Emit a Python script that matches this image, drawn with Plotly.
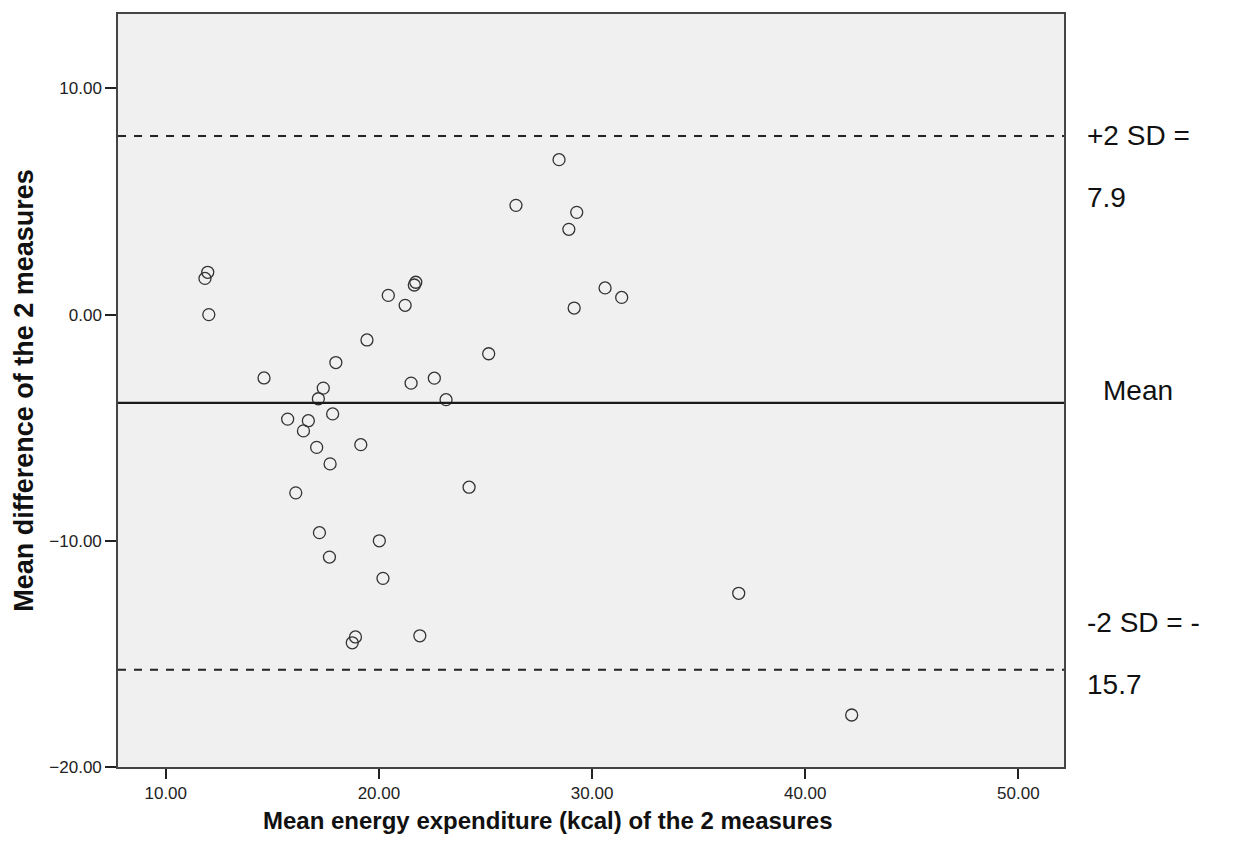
import plotly.graph_objects as go

# Bland-Altman data: mean of the 2 measures (x) and their difference (y)
mean_energy = [11.97, 11.84, 12.02, 14.61, 20.44, 21.73, 21.66, 21.23, 19.44, 17.98,
               25.15, 17.39, 17.16, 21.51, 22.60, 23.15, 15.72, 16.69, 16.46, 17.83,
               17.08, 19.15, 17.71, 16.10, 24.23, 17.21, 20.02, 17.68, 20.19, 18.90,
               18.75, 21.92, 28.45, 26.43, 29.28, 28.91, 30.61, 31.39, 29.16, 36.88,
               42.18]
mean_diff = [1.87, 1.60, 0.00, -2.80, 0.85, 1.43, 1.31, 0.41, -1.12, -2.12,
             -1.73, -3.25, -3.72, -3.03, -2.81, -3.76, -4.62, -4.69, -5.14, -4.39,
             -5.87, -5.75, -6.60, -7.88, -7.63, -9.64, -10.00, -10.72, -11.66, -14.25,
             -14.51, -14.20, 6.85, 4.83, 4.52, 3.77, 1.18, 0.76, 0.29, -12.32,
             -17.70]

mean_line = -3.9
upper_sd = 7.9
lower_sd = -15.7

x_ticks = [10, 20, 30, 40, 50]
y_ticks = [-20, -10, 0, 10]

FONT = "Liberation Sans, Arial, sans-serif"

fig = go.Figure()
fig.add_trace(go.Scatter(
    x=mean_energy, y=mean_diff, mode="markers",
    marker=dict(symbol="circle-open", size=12, color="#333333",
                line=dict(width=1.3, color="#333333")),
    showlegend=False, hoverinfo="x+y"))

fig.add_hline(y=mean_line, line=dict(color="#1a1a1a", width=2.2))
fig.add_hline(y=upper_sd, line=dict(color="#222222", width=2, dash="8px,8px"))
fig.add_hline(y=lower_sd, line=dict(color="#222222", width=2, dash="8px,8px"))

ann_font = dict(family=FONT, size=28, color="#111111")
anns = [
    ("+2 SD =", upper_sd, 0, 1.022),
    ("7.9", upper_sd, -62, 1.022),
    ("Mean", mean_line, 12, 1.039),
    ("-2 SD = -", lower_sd, 47, 1.022),
    ("15.7", lower_sd, -15, 1.022),
]
for txt, yv, shift, xp in anns:
    fig.add_annotation(text=txt, x=xp, xref="paper", y=yv, yref="y",
                       yshift=shift, xanchor="left", yanchor="middle",
                       showarrow=False, font=ann_font)

# x-axis title, slightly left of the plot centre as in the reference
fig.add_annotation(text="<b>Mean energy expenditure (kcal) of the 2 measures</b>",
                   x=0.455, xref="paper", y=0, yref="paper", yshift=-38,
                   xanchor="center", yanchor="top", showarrow=False,
                   font=dict(family=FONT, size=24, color="#111111"))

fig.update_xaxes(range=[7.76, 52.14], tickvals=x_ticks, tickformat=".2f",
                 showgrid=False, zeroline=False, showline=True, mirror=True,
                 linecolor="#444444", linewidth=1.5, ticks="outside", ticklen=10,
                 tickcolor="#222222", tickwidth=1.5,
                 tickfont=dict(family=FONT, size=17, color="#222222"))
fig.update_yaxes(range=[-20, 13.29], tickvals=y_ticks, tickformat=".2f",
                 showgrid=False, zeroline=False, showline=True, mirror=True,
                 linecolor="#444444", linewidth=1.5, ticks="outside", ticklen=11,
                 tickcolor="#222222", tickwidth=1.5,
                 tickfont=dict(family=FONT, size=17, color="#222222"),
                 title=dict(text="<b>Mean difference of the 2 measures</b>",
                            font=dict(family=FONT, size=27, color="#111111"), standoff=8))

fig.update_layout(width=1240, height=851,
                  margin=dict(l=118, r=176, t=12, b=84),
                  plot_bgcolor="#f0f0f0", paper_bgcolor="white")

fig.write_html("out.html")
